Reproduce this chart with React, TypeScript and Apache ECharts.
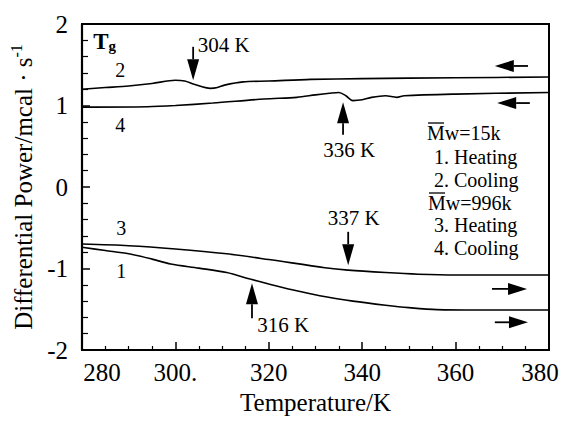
import React, { useEffect, useRef } from 'react';
import * as echarts from 'echarts';

// Curve 1: Mw=15k heating
const heat15T = [280, 285, 290, 295, 299, 305, 311, 316, 320, 325, 332.5, 338, 345, 350, 356, 365, 380];
const heat15P = [-0.74, -0.78, -0.82, -0.885, -0.945, -0.995, -1.05, -1.13, -1.19, -1.26, -1.35, -1.4, -1.45, -1.48, -1.505, -1.51, -1.51];
// Curve 2: Mw=15k cooling
const cool15T = [280, 285, 290, 295, 300, 302, 304, 307.5, 309, 310.5, 314.5, 320, 329, 340, 360, 380];
const cool15P = [1.2, 1.22, 1.24, 1.27, 1.31, 1.3, 1.26, 1.21, 1.22, 1.25, 1.29, 1.3, 1.32, 1.33, 1.34, 1.35];
// Curve 3: Mw=996k heating
const heat996T = [280, 290, 300, 311, 320, 332, 337, 345, 352, 360, 380];
const heat996P = [-0.7, -0.72, -0.76, -0.82, -0.89, -0.99, -1.02, -1.05, -1.07, -1.08, -1.08];
// Curve 4: Mw=996k cooling
const cool996T = [280, 294, 300, 308, 319, 326, 330, 333, 335, 336.5, 338, 340, 342, 345, 347.4, 349, 360, 380];
const cool996P = [0.98, 0.985, 1.0, 1.03, 1.08, 1.1, 1.13, 1.15, 1.16, 1.12, 1.06, 1.07, 1.1, 1.12, 1.1, 1.12, 1.14, 1.16];

const xMin = 280, xMax = 380, xStep = 20;
const yMin = -2, yMax = 2, yStep = 1;

// Tg annotations
const tgLabels = ['304 K', '336 K', '337 K', '316 K'];
const tgArrowX = [303.8, 335.9, 337.0, 316.4];
const tgTailY = [1.72, 0.64, -0.55, -1.61];
const tgTipY = [1.31, 1.04, -0.96, -1.18];
const tgLabelX = [304.8, 337.2, 338.2, 317.5];
const tgLabelY = [1.74, 0.45, -0.38, -1.69];
const tgLabelAlign = ['left', 'center', 'center', 'left'];

// direction arrows: tail x, tip x, y
const dirTailX = [375.5, 375.9, 367.8, 368.4];
const dirTipX = [368.4, 368.9, 375.3, 375.5];
const dirY = [1.485, 1.03, -1.25, -1.66];

// curve numbers
const curveNames = ['2', '4', '3', '1'];
const curveNameX = [288.2, 288.2, 288.4, 288.4];
const curveNameY = [1.44, 0.76, -0.5, -1.03];

const legendLines = ['Mw=15k', ' 1. Heating', ' 2. Cooling', 'Mw=996k', ' 3. Heating', ' 4. Cooling'];
const legendOverline = [true, false, false, true, false, false];

const FONT = '"Liberation Serif", "Times New Roman", serif';

const zip = (a: number[], b: number[]) => a.map((v, i) => [v, b[i]]);

export default function App() {
  const ref = useRef<HTMLDivElement>(null);
  useEffect(() => {
    const chart = echarts.init(ref.current!, null, { renderer: 'svg' });
    const lineSeries = (name: string, T: number[], P: number[]) => ({
      name,
      type: 'line',
      data: zip(T, P),
      smooth: 0.3,
      symbol: 'none',
      lineStyle: { color: '#000', width: 1.6 },
    });
    chart.setOption({
      animation: false,
      backgroundColor: '#fff',
      grid: { left: 82, right: 22, top: 24, bottom: 71, show: true, borderColor: '#000', borderWidth: 1.6 },
      xAxis: {
        type: 'value',
        min: xMin,
        max: xMax,
        interval: xStep,
        name: 'Temperature/K',
        nameLocation: 'middle',
        nameGap: 36,
        nameTextStyle: { fontFamily: FONT, fontSize: 25, color: '#000' },
        axisLine: { show: true, onZero: false, lineStyle: { color: '#000', width: 2 } },
        axisTick: { show: true, inside: true, length: 8, lineStyle: { color: '#000', width: 1.5 } },
        minorTick: { show: true, splitNumber: 4, length: 4, lineStyle: { color: '#000', width: 1.2 } },
        splitLine: { show: false },
        axisLabel: {
          margin: 10,
          color: '#000',
          fontFamily: FONT,
          fontSize: 25,
          formatter: (v: number) => {
            if (v === 280) return '{first|280}';
            if (v === 380) return '{last|380}';
            if (v === 300) return '{n|300.}';
            return '{n|' + v + '}';
          },
          rich: {
            n: { fontFamily: FONT, fontSize: 25, color: '#000' },
            first: { fontFamily: FONT, fontSize: 25, color: '#000', padding: [0, 0, 0, 40] },
            last: { fontFamily: FONT, fontSize: 25, color: '#000', padding: [0, 18, 0, 0] },
          },
        },
      },
      yAxis: {
        type: 'value',
        min: yMin,
        max: yMax,
        interval: yStep,
        name: '{a|Differential Power/mcal \u00b7 s}{sup|-1}',
        nameLocation: 'middle',
        nameGap: 42,
        nameTextStyle: {
          color: '#000',
          rich: {
            a: { fontFamily: FONT, fontSize: 25, color: '#000', lineHeight: 30 },
            sup: { fontFamily: FONT, fontSize: 16, color: '#000', verticalAlign: 'top', lineHeight: 16 },
          },
        },
        axisLine: { show: true, onZero: false, lineStyle: { color: '#000', width: 2.2 } },
        axisTick: { show: true, inside: true, length: 8, lineStyle: { color: '#000', width: 1.5 } },
        minorTick: { show: true, splitNumber: 5, length: 6, lineStyle: { color: '#000', width: 1.2 } },
        splitLine: { show: false },
        axisLabel: { margin: 14, color: '#000', fontFamily: FONT, fontSize: 25 },
      },
      series: [
        lineSeries('1. Heating', heat15T, heat15P),
        lineSeries('2. Cooling', cool15T, cool15P),
        lineSeries('3. Heating', heat996T, heat996P),
        lineSeries('4. Cooling', cool996T, cool996P),
      ],
    });

    const px = (x: number, y: number) => chart.convertToPixel({ xAxisIndex: 0, yAxisIndex: 0 }, [x, y]) as number[];
    const g: any[] = [];

    const tl = px(xMin, yMax);
    const br = px(xMax, yMin);
    g.push({
      type: 'rect',
      shape: { x: tl[0], y: tl[1], width: br[0] - tl[0], height: br[1] - tl[1] },
      style: { fill: 'transparent', stroke: '#000', lineWidth: 2 },
      z: 100,
    });

    tgLabels.forEach((lab, i) => {
      const tail = px(tgArrowX[i], tgTailY[i]);
      const tip = px(tgArrowX[i], tgTipY[i]);
      const dir = tip[1] > tail[1] ? 1 : -1;
      const headLen = 21;
      const headW = 6;
      g.push({
        type: 'line',
        shape: { x1: tail[0], y1: tail[1], x2: tip[0], y2: tip[1] - dir * headLen },
        style: { stroke: '#000', lineWidth: 1.8 },
      });
      g.push({
        type: 'polygon',
        shape: {
          points: [
            [tip[0], tip[1]],
            [tip[0] - headW, tip[1] - dir * headLen],
            [tip[0] + headW, tip[1] - dir * headLen],
          ],
        },
        style: { fill: '#000' },
      });
      const lp = px(tgLabelX[i], tgLabelY[i]);
      g.push({
        type: 'text',
        x: lp[0],
        y: lp[1],
        style: {
          text: lab,
          fontFamily: FONT,
          fontSize: 21,
          fill: '#000',
          align: tgLabelAlign[i],
          verticalAlign: 'middle',
        },
      });
    });

    dirY.forEach((yv, i) => {
      const tail = px(dirTailX[i], yv);
      const tip = px(dirTipX[i], yv);
      const dir = tip[0] > tail[0] ? 1 : -1;
      const headLen = 19;
      const headW = 6;
      g.push({
        type: 'line',
        shape: { x1: tail[0], y1: tail[1], x2: tip[0] - dir * headLen, y2: tip[1] },
        style: { stroke: '#000', lineWidth: 1.8 },
      });
      g.push({
        type: 'polygon',
        shape: {
          points: [
            [tip[0], tip[1]],
            [tip[0] - dir * headLen, tip[1] - headW],
            [tip[0] - dir * headLen, tip[1] + headW],
          ],
        },
        style: { fill: '#000' },
      });
    });

    curveNames.forEach((n, i) => {
      const p = px(curveNameX[i], curveNameY[i]);
      g.push({
        type: 'text',
        x: p[0],
        y: p[1],
        style: { text: n, fontFamily: FONT, fontSize: 20, fill: '#000', align: 'center', verticalAlign: 'middle' },
      });
    });

    const tgp = px(282.4, 1.78);
    g.push({
      type: 'text',
      x: tgp[0],
      y: tgp[1],
      style: {
        text: '{t|T}{s|g}',
        fontFamily: FONT,
        verticalAlign: 'middle',
        align: 'left',
        rich: {
          t: { fontFamily: FONT, fontSize: 23, fontWeight: 'bold', fill: '#000', lineHeight: 24 },
          s: { fontFamily: FONT, fontSize: 15, fontWeight: 'bold', fill: '#000', verticalAlign: 'bottom', lineHeight: 15 },
        },
      },
    });

    const legendTop = [133, 157, 180, 203, 225, 248];
    const legendLeft = [427, 429, 429, 428, 429, 429];
    legendLines.forEach((t, i) => {
      g.push({
        type: 'text',
        x: legendLeft[i],
        y: legendTop[i],
        style: { text: t, fontFamily: FONT, fontSize: 20, fill: '#000', align: 'left', verticalAlign: 'middle' },
      });
      if (legendOverline[i]) {
        g.push({
          type: 'line',
          shape: { x1: legendLeft[i] + 1, y1: legendTop[i] - 10, x2: legendLeft[i] + 17, y2: legendTop[i] - 10 },
          style: { stroke: '#000', lineWidth: 1.3 },
        });
      }
    });

    chart.setOption({ graphic: g });
    return () => chart.dispose();
  }, []);
  return <div ref={ref} style={{ width: 571, height: 421, position: 'absolute', left: 0, top: 0 }} />;
}
